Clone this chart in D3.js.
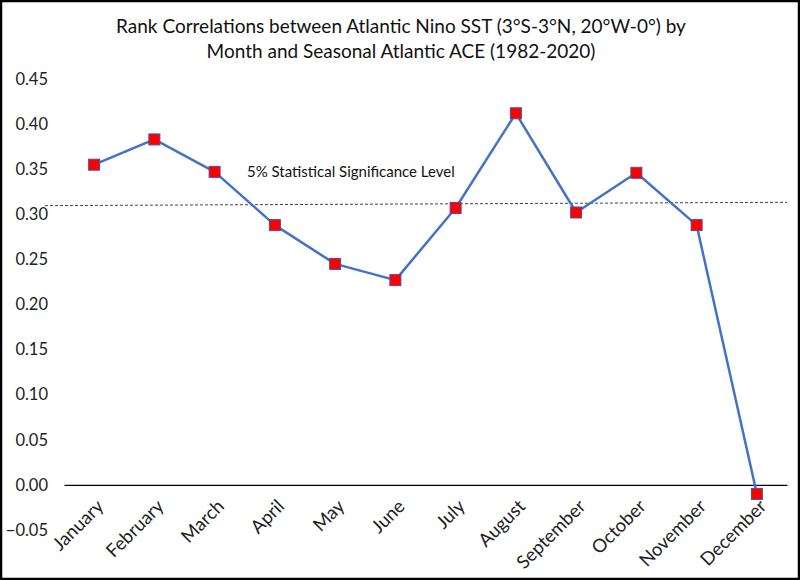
<!DOCTYPE html>
<html>
<head>
<meta charset="utf-8">
<script src="https://cdn.jsdelivr.net/npm/d3@7"></script>
<style>
  body { margin: 0; background: #fff; }
  svg { display: block; font-family: Lato, "Open Sans", sans-serif; }
</style>
</head>
<body>
<div id="chart"></div>
<script>
// data
const months = ['January', 'February', 'March', 'April', 'May', 'June', 'July',
  'August', 'September', 'October', 'November', 'December'];
const rankCorr = [0.355, 0.383, 0.347, 0.288, 0.245, 0.227, 0.307, 0.412, 0.302, 0.346, 0.288, -0.010];
const yTicks = [-0.05, 0, 0.05, 0.10, 0.15, 0.20, 0.25, 0.30, 0.35, 0.40, 0.45];
const sigLevel = [0.3096, 0.3133]; // dashed line, left and right ends (drawn slightly tilted)
const titleLines = ['Rank Correlations between Atlantic Nino SST (3°S-3°N, 20°W-0°) by',
  'Month and Seasonal Atlantic ACE (1982-2020)'];
const sigLabel = '5% Statistical Significance Level';

const width = 800, height = 580;
const margin = {top: 79, right: 13, bottom: 50, left: 64};

const svg = d3.select('#chart').append('svg')
  .attr('width', width)
  .attr('height', height);

// outer frame
svg.append('rect')
  .attr('x', 1).attr('y', 1)
  .attr('width', width - 2).attr('height', height - 2)
  .attr('fill', '#fff')
  .attr('stroke', '#000')
  .attr('stroke-width', 2.5);

let x = d3.scaleBand().domain(months).range([margin.left, width - margin.right]);
let y = d3.scaleLinear().domain([-0.05, 0.45]).range([530, 79]);

// title
svg.append('g').selectAll('text')
  .data(titleLines)
  .join('text')
  .attr('x', 401)
  .attr('y', (d, i) => 33 + i * 25)
  .attr('text-anchor', 'middle')
  .attr('font-size', 19)
  .attr('fill', '#111')
  .text(d => d);

// y axis labels (no axis line)
svg.append('g').selectAll('text')
  .data(yTicks)
  .join('text')
  .attr('x', 48)
  .attr('y', d => y(d))
  .attr('dy', '0.35em')
  .attr('text-anchor', 'end')
  .attr('font-size', 16.5)
  .attr('fill', '#222')
  .text(d => d3.format('.2f')(d));

// x axis at zero
let xAxis = svg.append('g')
  .attr('transform', `translate(0,${y(0)})`)
  .call(d3.axisBottom(x).tickSize(0).tickFormat(''));
xAxis.select('.domain').attr('stroke', '#000').attr('stroke-width', 1.3);

// month labels, rotated
svg.append('g').selectAll('text')
  .data(months)
  .join('text')
  .attr('transform', d => `translate(${x(d) + x.bandwidth() / 2 + 6},${y(0) + 18}) rotate(-45)`)
  .attr('text-anchor', 'end')
  .attr('dy', '0.35em')
  .attr('font-size', 18.5)
  .attr('fill', '#222')
  .text(d => d);

// significance line
svg.append('line')
  .attr('x1', 45).attr('x2', 787)
  .attr('y1', y(sigLevel[0])).attr('y2', y(sigLevel[1]))
  .attr('stroke', '#444')
  .attr('stroke-width', 1)
  .attr('stroke-dasharray', '3,2');

svg.append('text')
  .attr('x', 247)
  .attr('y', 172)
  .attr('dy', '0.35em')
  .attr('font-size', 15)
  .attr('fill', '#111')
  .text(sigLabel);

// series
let line = d3.line()
  .x((d, i) => x(months[i]) + x.bandwidth() / 2)
  .y(d => y(d));

svg.append('path')
  .datum(rankCorr)
  .attr('d', line)
  .attr('fill', 'none')
  .attr('stroke', '#4472c4')
  .attr('stroke-width', 2.5)
  .attr('stroke-linejoin', 'round');

svg.append('g').selectAll('rect')
  .data(rankCorr)
  .join('rect')
  .attr('x', (d, i) => x(months[i]) + x.bandwidth() / 2 - 5.5)
  .attr('y', d => y(d) - 5.5)
  .attr('width', 11)
  .attr('height', 11)
  .attr('fill', '#ff0000')
  .attr('stroke', '#5b4a9a')
  .attr('stroke-width', 1);
</script>
</body>
</html>
